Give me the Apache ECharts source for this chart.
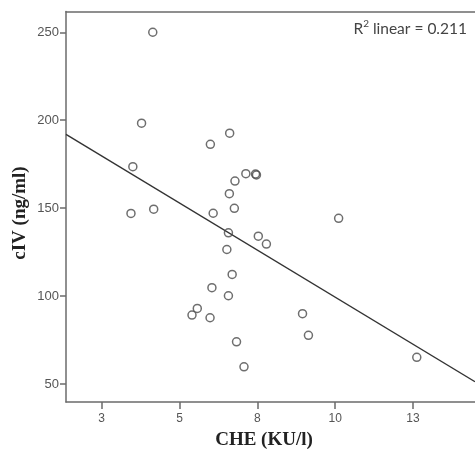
<!DOCTYPE html>
<html>
<head>
<meta charset="utf-8">
<script src="https://cdn.jsdelivr.net/npm/echarts@6/dist/echarts.min.js"></script>
<style>html,body{margin:0;padding:0;background:#fff}#c{width:475px;height:450px}</style>
</head>
<body>
<div id="c"></div>
<script>
// CHE (KU/l) values
const cheValues = [4.14, 3.78, 6.61, 5.99, 7.13, 7.44, 7.47, 6.78, 3.50, 6.60,
                   6.76, 6.08, 3.44, 4.17, 10.11, 6.57, 7.53, 7.79, 6.52, 6.69,
                   6.04, 6.57, 5.57, 5.40, 5.98, 8.95, 9.14, 6.83, 7.07, 12.62];
// cIV (ng/ml) values
const civValues = [250.0, 198.3, 192.6, 186.3, 169.6, 169.4, 168.9, 165.4, 173.6, 158.2,
                   149.9, 147.1, 147.0, 149.4, 144.2, 136.0, 134.1, 129.6, 126.5, 112.3,
                   104.8, 100.2, 93.0, 89.2, 87.7, 90.0, 77.7, 74.0, 59.8, 65.2];
// fitted linear regression line endpoints
const fitX = [1.353, 14.49];
const fitY = [192.0, 51.3];
// axis ticks
const xTickValues = [2.5, 5, 7.5, 10, 12.5];
const xTickLabels = ['3', '5', '8', '10', '13'];
const yTickValues = [50, 100, 150, 200, 250];
const yTickLabels = ['50', '100', '150', '200', '250'];
const xTitle = 'CHE (KU/l)';
const yTitle = 'cIV (ng/ml)';
const r2Text = '0.211';

const chart = echarts.init(document.getElementById('c'), null, {renderer: 'canvas'});
const axisCol = '#6b6b6b';
const labelCol = '#555';
const titleStyle = {fontFamily: 'Liberation Serif', fontWeight: 'bold', fontSize: 19, fill: '#222',
  align: 'center', verticalAlign: 'middle'};
chart.setOption({
  animation: false,
  backgroundColor: '#fff',
  grid: {left: 66, top: 11.5, right: 0, bottom: 48},
  xAxis: [{
    type: 'value', min: fitX[0], max: fitX[1],
    axisLine: {show: true, lineStyle: {color: axisCol, width: 1.5}},
    axisTick: {show: true, length: 7, customValues: xTickValues, lineStyle: {color: axisCol, width: 1.5}},
    axisLabel: {show: true, customValues: xTickValues, margin: 11, color: labelCol,
      fontFamily: 'Liberation Sans', fontSize: 12,
      formatter: v => { const i = xTickValues.findIndex(t => Math.abs(t - v) < 1e-6); return i >= 0 ? xTickLabels[i] : ''; }},
    splitLine: {show: false}
  }, {
    type: 'value', position: 'top', min: fitX[0], max: fitX[1],
    axisLine: {show: true, lineStyle: {color: axisCol, width: 1.5}},
    axisTick: {show: false}, axisLabel: {show: false}, splitLine: {show: false}
  }],
  yAxis: {
    type: 'value', min: 39.8, max: 261.8,
    axisLine: {show: true, lineStyle: {color: axisCol, width: 1.5}},
    axisTick: {show: true, length: 6, customValues: yTickValues, lineStyle: {color: axisCol, width: 1.5}},
    axisLabel: {show: true, customValues: yTickValues, margin: 7, color: labelCol,
      fontFamily: 'Liberation Sans', fontSize: 13,
      formatter: v => { const i = yTickValues.findIndex(t => Math.abs(t - v) < 1e-6); return i >= 0 ? yTickLabels[i] : ''; }},
    splitLine: {show: false}
  },
  graphic: [{
    type: 'text', right: 8, top: 19,
    style: {
      text: '{a|R}{s|2}{a| linear = ' + r2Text + '}',
      rich: {
        a: {fontFamily: 'Lato', fontSize: 15.5, fill: '#444', verticalAlign: 'bottom', lineHeight: 18},
        s: {fontFamily: 'Lato', fontSize: 10, fill: '#444', verticalAlign: 'top', lineHeight: 18, padding: [0, 0, 5, 0]}
      }
    }
  }, {
    type: 'text', x: 264, y: 440, style: Object.assign({text: xTitle}, titleStyle)
  }, {
    type: 'text', x: 20, y: 213, rotation: Math.PI / 2, style: Object.assign({text: yTitle}, titleStyle)
  }],
  series: [{
    type: 'line', data: fitX.map((x, i) => [x, fitY[i]]), symbol: 'none',
    lineStyle: {color: '#333', width: 1.4}, silent: true, z: 1
  }, {
    type: 'scatter', data: cheValues.map((x, i) => [x, civValues[i]]),
    symbol: 'circle', symbolSize: 8,
    itemStyle: {color: 'rgba(255,255,255,0)', borderColor: '#4a4a4a', borderWidth: 1.5},
    z: 2
  }]
});
</script>
</body>
</html>
